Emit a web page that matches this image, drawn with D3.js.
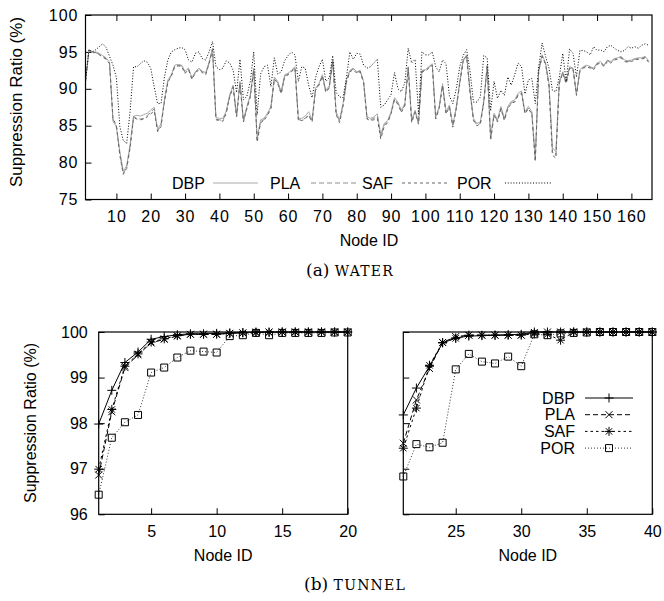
<!DOCTYPE html>
<html>
<head>
<meta charset="utf-8">
<title>Suppression Ratio</title>
<script src="https://cdnjs.cloudflare.com/ajax/libs/d3/7.8.5/d3.min.js"></script>
<style>
  html, body { margin: 0; background: #fff; }
  svg { display: block; font-family: "Liberation Sans", Arial, Helvetica, sans-serif; }
</style>
</head>
<body>
<script>
// ---- (a) WATER : suppression ratio per node (nodes 1..165)
var waterIds = d3.range(1, 166);
var waterTicks = [10, 20, 30, 40, 50, 60, 70, 80, 90, 100, 110, 120, 130, 140, 150, 160];
var waterYTicks = [75, 80, 85, 90, 95, 100];

var waterDBP = [
  91.0,95.2,95.0,95.0,94.8,94.5,94.2,93.6,85.6,84.8, 81.5,78.8,79.6,82.5,86.3,86.4,86.3,86.5,86.7,87.1,
  87.5,84.5,85.3,88.5,91.2,91.9,93.2,93.3,93.2,92.4, 92.8,91.5,92.3,92.8,92.4,92.2,93.6,95.5,86.1,86.0,
  86.0,87.0,89.2,90.5,86.5,91.0,85.8,87.6,89.2,92.8, 83.3,85.8,86.0,86.7,87.6,91.6,91.0,89.6,91.9,92.1,
  92.5,93.0,86.0,86.0,86.3,86.9,85.8,90.1,90.7,91.9, 89.8,90.4,93.9,86.9,85.8,88.0,91.2,92.5,92.8,92.3,
  92.5,91.0,86.2,86.0,86.2,86.6,83.8,85.3,85.7,86.9, 88.8,88.2,87.1,88.0,93.0,85.8,87.1,85.5,92.5,92.6,
  93.0,93.4,86.2,87.6,90.7,86.9,87.8,85.1,87.6,91.0, 93.9,94.6,89.8,86.0,85.3,85.5,88.4,93.2,83.5,86.7,
  85.8,87.6,86.0,87.6,88.3,88.5,89.4,89.7,86.9,87.6, 86.9,80.5,92.6,94.6,93.5,90.7,82.0,81.5,91.0,92.3,
  91.0,93.0,92.8,89.4,92.6,93.0,93.2,93.0,92.8,93.5, 93.7,93.2,93.9,93.7,94.1,94.2,94.4,93.9,93.8,93.9,
  94.1,94.2,94.2,94.4,93.8
];
var waterPLA = [
  91.0,95.3,95.0,94.9,94.7,94.4,94.1,93.5,85.9,85.0, 81.2,78.6,79.3,82.2,86.2,86.0,85.9,86.0,86.4,86.8,
  87.3,84.3,85.0,88.4,91.0,91.8,93.1,93.2,93.1,92.2, 92.7,91.4,92.2,92.7,92.3,92.0,93.5,95.4,85.9,85.8,
  85.7,86.8,89.0,90.3,86.3,90.8,85.6,87.4,89.0,92.6, 83.0,85.6,85.8,86.5,87.4,91.4,90.8,89.4,91.7,92.0,
  92.4,92.9,85.8,85.8,86.0,86.5,85.6,89.9,90.6,91.8, 89.6,90.2,93.8,86.7,85.6,87.8,91.0,92.4,92.7,92.2,
  92.4,90.9,86.0,85.8,86.0,86.3,83.5,85.1,85.5,86.7, 88.6,88.0,86.9,87.8,92.9,85.6,86.9,85.3,92.4,92.5,
  92.9,93.3,86.0,87.4,90.5,86.7,87.6,84.9,87.4,90.8, 93.8,94.5,89.6,85.8,85.1,85.3,88.2,93.1,83.2,86.5,
  85.6,87.4,85.8,87.4,88.1,88.3,89.2,89.5,86.7,87.4, 86.7,80.3,92.4,94.5,93.4,90.5,81.5,81.0,90.8,92.2,
  90.8,92.9,92.7,89.2,92.5,92.9,93.1,92.9,92.7,93.4, 93.6,93.1,93.8,93.6,94.0,94.1,94.3,93.8,93.7,93.8,
  94.0,94.1,94.1,94.3,93.7
];
var waterSAF = [
  91.0,95.2,94.9,94.9,94.6,94.3,94.0,93.4,86.0,85.0, 81.0,78.4,79.2,82.0,86.1,85.9,85.8,85.9,86.2,86.6,
  87.0,84.2,84.9,88.3,90.9,91.7,93.0,93.1,93.0,92.1, 92.6,91.3,92.1,92.6,92.2,91.9,93.4,95.3,85.8,85.7,
  85.6,86.7,88.9,90.2,86.2,90.7,85.5,87.3,88.9,92.5, 82.8,85.4,85.7,86.4,87.3,91.3,90.7,89.3,91.6,91.9,
  92.3,92.8,85.7,85.7,85.9,86.4,85.5,89.8,90.5,91.7, 89.5,90.1,93.7,86.5,85.4,87.6,90.9,92.3,92.6,92.1,
  92.3,90.8,85.9,85.7,85.8,86.0,83.2,84.9,85.4,86.6, 88.5,87.9,86.8,87.7,92.8,85.4,86.8,85.2,92.3,92.4,
  92.8,93.2,85.9,87.3,90.4,86.6,87.5,84.8,87.3,90.7, 93.7,94.4,89.5,85.7,85.0,85.2,88.1,93.0,83.0,86.4,
  85.5,87.3,85.7,87.3,88.0,88.2,89.1,89.4,86.6,87.3, 86.6,80.2,92.3,94.4,93.3,90.4,81.0,80.6,90.7,92.1,
  90.7,92.8,92.6,89.1,92.4,92.8,93.0,92.8,92.6,93.3, 93.5,93.0,93.7,93.5,93.9,94.0,94.2,93.7,93.6,93.7,
  93.9,94.0,94.0,94.2,93.6
];
var waterPOR = [
  91.0,95.3,95.0,95.3,95.7,96.1,95.6,94.4,93.2,91.5, 84.9,83.0,82.6,87.0,93.0,93.0,93.4,93.8,93.6,92.8,
  90.3,88.0,88.0,91.6,93.9,95.0,95.3,95.5,95.6,95.3, 93.9,93.6,94.8,95.0,94.1,93.9,95.0,96.4,93.0,92.6,
  92.8,93.8,93.5,92.5,89.5,94.0,88.5,89.0,91.0,95.0, 86.5,92.0,93.0,93.2,90.3,94.2,92.0,92.3,93.8,94.5,
  95.0,94.6,91.0,93.0,92.8,90.5,88.8,91.5,93.0,94.0, 91.0,91.5,94.5,89.5,88.9,88.8,91.5,95.0,94.0,94.8,
  94.7,93.2,92.8,93.0,93.5,94.0,87.5,87.8,88.5,89.2, 92.2,90.0,89.6,90.8,95.5,93.5,94.0,86.6,95.0,94.6,
  94.6,95.0,93.0,92.3,93.9,93.4,89.0,88.0,90.0,93.0, 94.5,95.3,92.4,88.2,88.2,88.9,94.5,94.2,87.0,91.0,
  88.7,89.8,89.1,91.6,90.5,91.9,93.5,93.0,89.3,91.2, 91.4,88.0,93.0,96.2,94.4,92.8,89.8,89.6,91.6,94.8,
  91.0,95.4,94.8,91.6,95.2,95.2,95.0,94.6,95.7,95.2, 95.3,95.0,95.7,95.9,95.5,95.2,95.0,95.2,95.7,95.5,
  95.7,95.5,95.9,96.1,95.9
];

// ---- (b) TUNNEL : nodes 1..40 (left panel 1..20, right panel 21..40)
var tunnelIds = d3.range(1, 41);
var tunnelLeftTicks = [5, 10, 15, 20];
var tunnelRightTicks = [25, 30, 35, 40];
var tunnelYTicks = [96, 97, 98, 99, 100];

var tunnelDBP = [
  97.98,98.72,99.33,99.56,99.84,99.90,99.94,99.96,99.96,99.97, 99.98,99.99,100,100,100,100,100,100,100,100,
  98.18,98.77,99.25,99.76,99.87,99.91,99.92,99.93,99.94,99.95, 100,100,100,100,100,100,100,100,100,100
];
var tunnelPLA = [
  96.86,98.25,99.22,99.50,99.76,99.84,99.91,99.95,99.95,99.95, 99.97,99.98,99.99,100,100,100,100,100,100,100,
  97.56,98.51,99.20,99.77,99.90,99.93,99.93,99.93,99.93,99.93, 99.99,100,100,100,100,100,100,100,100,100
];
var tunnelSAF = [
  96.99,98.30,99.25,99.52,99.78,99.85,99.92,99.95,99.95,99.95, 99.97,99.98,99.99,99.99,100,100,100,100,100,100,
  97.45,98.33,99.27,99.77,99.86,99.93,99.93,99.93,99.93,99.93, 99.96,99.95,99.82,100,100,100,100,100,100,100
];
var tunnelPOR = [
  96.43,97.68,98.02,98.18,99.11,99.22,99.44,99.59,99.57,99.55, 99.91,99.93,99.98,99.93,99.98,99.98,99.98,99.98,99.99,99.99,
  96.83,97.54,97.47,97.57,99.18,99.52,99.35,99.31,99.46,99.25, 99.95,99.93,99.97,99.98,99.99,100,100,100,100,100
];

var seriesNames = ["DBP", "PLA", "SAF", "POR"];

var svg = d3.select("body").append("svg")
    .attr("width", 664)
    .attr("height", 601);

function styleAxis(g, size, spacing) {
  g.select(".domain").remove();
  g.attr("font-family", null).attr("font-size", size);
  g.selectAll("line").attr("stroke", "#000");
  g.selectAll("text").attr("fill", "#000").attr("letter-spacing", spacing || 0);
}

// ================= (a) WATER =================
var xW = d3.scaleLinear().domain([1, 166]).range([85.5, 652]);
var yW = d3.scaleLinear().domain([75, 100]).range([199.5, 15]);

svg.append("g").attr("transform", "translate(0,199.5)")
   .call(d3.axisBottom(xW).tickValues(waterTicks).tickSize(-6).tickSizeOuter(0).tickPadding(11))
   .call(styleAxis, 16, 1);
svg.append("g").attr("transform", "translate(0,15)")
   .call(d3.axisTop(xW).tickValues(waterTicks).tickSize(-6).tickSizeOuter(0).tickFormat(""))
   .call(styleAxis, 16);
svg.append("g").attr("transform", "translate(85.5,0)")
   .call(d3.axisLeft(yW).tickValues(waterYTicks).tickSize(-6).tickSizeOuter(0).tickPadding(7))
   .call(styleAxis, 16, 1);

var waterStyles = {
  DBP: { data: waterDBP, color: "#aaaaaa", dash: null },
  PLA: { data: waterPLA, color: "#8c8c8c", dash: "5,3" },
  SAF: { data: waterSAF, color: "#666666", dash: "3,3" },
  POR: { data: waterPOR, color: "#000000", dash: "1,1.8" }
};

var lineW = d3.line()
    .x(function(d, i) { return xW(waterIds[i]); })
    .y(function(d) { return yW(d); });

seriesNames.forEach(function(name) {
  var s = waterStyles[name];
  svg.append("path")
     .datum(s.data)
     .attr("d", lineW)
     .attr("fill", "none")
     .attr("stroke", s.color)
     .attr("stroke-width", 1)
     .attr("stroke-dasharray", s.dash);
});

svg.append("rect")
   .attr("x", xW.range()[0]).attr("y", yW.range()[1])
   .attr("width", xW.range()[1] - xW.range()[0])
   .attr("height", yW.range()[0] - yW.range()[1])
   .attr("fill", "none").attr("stroke", "#000").attr("stroke-width", 1.2);

// legend along the bottom of the plot
var legW = [
  { name: "DBP", tx: 172, l0: 213, l1: 258 },
  { name: "PLA", tx: 270, l0: 311, l1: 358 },
  { name: "SAF", tx: 362, l0: 402, l1: 450 },
  { name: "POR", tx: 457, l0: 505, l1: 552 }
];
legW.forEach(function(d) {
  var s = waterStyles[d.name];
  svg.append("text").attr("x", d.tx).attr("y", 189)
     .attr("font-size", 16).text(d.name);
  svg.append("line").attr("x1", d.l0).attr("x2", d.l1)
     .attr("y1", 183).attr("y2", 183)
     .attr("stroke", s.color).attr("stroke-dasharray", s.dash);
});

svg.append("text")
   .attr("transform", "translate(22,102) rotate(-90)")
   .attr("text-anchor", "middle").attr("font-size", 17)
   .text("Suppression Ratio (%)");
svg.append("text")
   .attr("x", 369).attr("y", 246).attr("text-anchor", "middle")
   .attr("font-size", 16).text("Node ID");

var capA = svg.append("text")
   .attr("x", 350).attr("y", 276).attr("text-anchor", "middle")
   .attr("font-family", "'DejaVu Serif', 'Liberation Serif', serif");
capA.append("tspan").attr("font-size", 17).text("(a) ");
capA.append("tspan").attr("font-size", 14).attr("letter-spacing", 1.2).text("WATER");

// ================= (b) TUNNEL =================
var yT = d3.scaleLinear().domain([96, 100]).range([514.3, 332]);

var markers = {
  DBP: "M-4.5,0H4.5M0,-4.5V4.5",
  PLA: "M-3.5,-3.5L3.5,3.5M-3.5,3.5L3.5,-3.5",
  SAF: "M-4.5,0H4.5M0,-4.5V4.5M-3.2,-3.2L3.2,3.2M-3.2,3.2L3.2,-3.2",
  POR: "M-3.5,-3.5H3.5V3.5H-3.5Z"
};
var tunnelStyles = {
  DBP: { data: tunnelDBP, dash: null },
  PLA: { data: tunnelPLA, dash: "5,3" },
  SAF: { data: tunnelSAF, dash: "2.5,3" },
  POR: { data: tunnelPOR, dash: "1,2" }
};

function tunnelPanel(r0, r1, dom, ticks, from, to, labels) {
  var x = d3.scaleLinear().domain(dom).range([r0, r1]);

  svg.append("g").attr("transform", "translate(0,514.3)")
     .call(d3.axisBottom(x).tickValues(ticks).tickSize(-6).tickSizeOuter(0).tickPadding(11))
     .call(styleAxis, 16);
  svg.append("g").attr("transform", "translate(" + r0 + ",0)")
     .call(d3.axisLeft(yT).tickValues(tunnelYTicks).tickSize(-6).tickSizeOuter(0).tickPadding(11)
       .tickFormat(labels ? d3.format("d") : ""))
     .call(styleAxis, 16);

  var ids = tunnelIds.slice(from, to);
  var line = d3.line()
      .x(function(d, i) { return x(ids[i]); })
      .y(function(d) { return yT(d); });

  seriesNames.slice().reverse().forEach(function(name) {
    var s = tunnelStyles[name];
    var vals = s.data.slice(from, to);
    svg.append("path").datum(vals)
       .attr("d", line).attr("fill", "none")
       .attr("stroke", "#000").attr("stroke-width", name === "POR" ? 0.8 : 1)
       .attr("stroke-dasharray", s.dash);
    svg.append("g").selectAll("path").data(vals).enter().append("path")
       .attr("transform", function(d, i) { return "translate(" + x(ids[i]) + "," + yT(d) + ")"; })
       .attr("d", markers[name])
       .attr("fill", "none")
       .attr("stroke", "#000").attr("stroke-width", 1);
  });

  svg.append("rect")
     .attr("x", r0).attr("y", 332).attr("width", r1 - r0).attr("height", 514.3 - 332)
     .attr("fill", "none").attr("stroke", "#000").attr("stroke-width", 1.2);

  svg.append("text")
     .attr("x", (r0 + r1) / 2).attr("y", 561).attr("text-anchor", "middle")
     .attr("font-size", 16).text("Node ID");
}

tunnelPanel(98.7, 347.7, [1, 20], tunnelLeftTicks, 0, 20, true);
tunnelPanel(403.3, 652.3, [21, 40], tunnelRightTicks, 20, 40, false);

svg.append("text")
   .attr("transform", "translate(36,423) rotate(-90)")
   .attr("text-anchor", "middle").attr("font-size", 16)
   .text("Suppression Ratio (%)");

// legend in the right panel
seriesNames.forEach(function(name, i) {
  var y = 398 + i * 16.7;
  svg.append("text").attr("x", 575).attr("y", y + 5.5)
     .attr("text-anchor", "end").attr("font-size", 16).text(name);
  svg.append("line").attr("x1", 585).attr("x2", 633).attr("y1", y).attr("y2", y)
     .attr("stroke", "#000").attr("stroke-width", name === "POR" ? 0.8 : 1)
     .attr("stroke-dasharray", tunnelStyles[name].dash);
  svg.append("path").attr("transform", "translate(609," + y + ")")
     .attr("d", markers[name]).attr("fill", "none").attr("stroke", "#000");
});

var capB = svg.append("text")
   .attr("x", 355).attr("y", 590).attr("text-anchor", "middle")
   .attr("font-family", "'DejaVu Serif', 'Liberation Serif', serif");
capB.append("tspan").attr("font-size", 17).text("(b) ");
capB.append("tspan").attr("font-size", 14).attr("letter-spacing", 1.2).text("TUNNEL");
</script>
</body>
</html>
